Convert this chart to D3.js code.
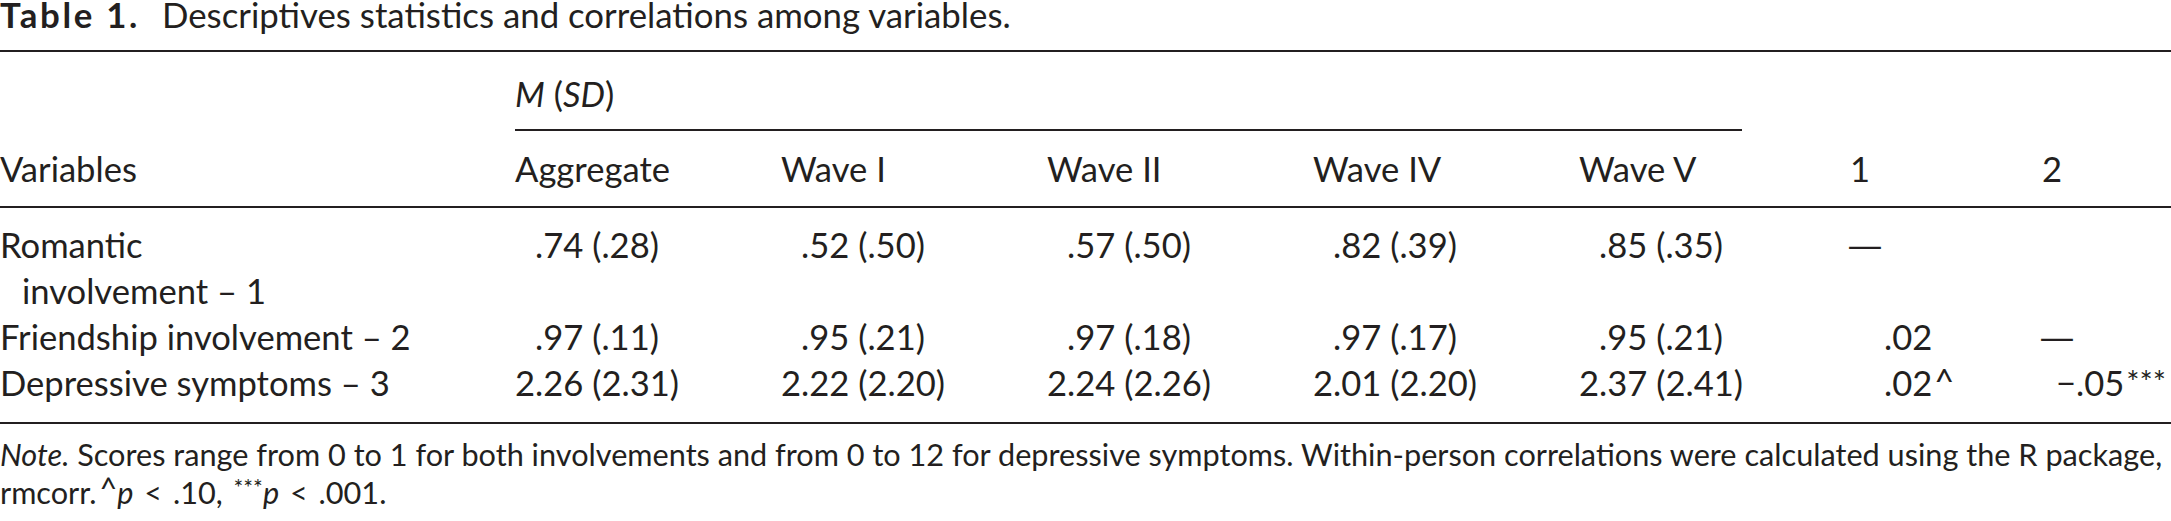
<!DOCTYPE html>
<html>
<head>
<meta charset="utf-8">
<script src="https://cdn.jsdelivr.net/npm/d3@7"></script>
<style>
  html, body { margin: 0; padding: 0; background: #fff; }
  svg { display: block; }
  text { font-family: Lato, "Open Sans", sans-serif; fill: #231f20; }
</style>
</head>
<body>
<div id="chart"></div>
<script>
// ---------- data ----------
const titleLabel = "Table 1.";
const titleText = "Descriptives statistics and correlations among variables.";
const stubHeader = "Variables";
const variableLines = [["Romantic", "involvement \u2013 1"], ["Friendship involvement \u2013 2"], ["Depressive symptoms \u2013 3"]];
const waves = ["Aggregate", "Wave I", "Wave II", "Wave IV", "Wave V"];
const meanValues = [
  [0.74, 0.52, 0.57, 0.82, 0.85],
  [0.97, 0.95, 0.97, 0.97, 0.95],
  [2.26, 2.22, 2.24, 2.01, 2.37]
];
const sdValues = [
  [0.28, 0.50, 0.50, 0.39, 0.35],
  [0.11, 0.21, 0.18, 0.17, 0.21],
  [2.31, 2.20, 2.26, 2.20, 2.41]
];
const corrColumns = ["1", "2"];
const corrWith1 = [null, 0.02, 0.02];
const corrWith2 = [null, null, -0.05];
const corrSig1 = ["", "", "^"];
const corrSig2 = ["", "", "***"];
const noteLead = "Note.";
const noteLine1 = " Scores range from 0 to 1 for both involvements and from 0 to 12 for depressive symptoms. Within-person correlations were calculated using the R package,";

// ---------- layout ----------
const W = 2171, H = 521;
const ink = "#231f20";
const svg = d3.select("#chart").append("svg")
  .attr("width", W).attr("height", H).attr("viewBox", `0 0 ${W} ${H}`);
svg.append("rect").attr("width", W).attr("height", H).attr("fill", "#fff");

function measure(parts, size) {
  const t = svg.append("text").attr("font-size", size);
  parts.forEach(p => t.append("tspan").attr("font-style", p.i ? "italic" : null).attr("font-weight", p.b ? "bold" : null).text(p.t));
  const w = t.node().getComputedTextLength();
  t.remove();
  return w;
}
// calibrate font sizes so text spans match the original's proportions
const noteFs = 30 * 2163 / measure([{ t: noteLead, i: 1 }, { t: noteLine1 }], 30);
const fs = 30 * 390 / measure([{ t: variableLines[2][0] }], 30);
const titleFs = 30 * 849 / measure([{ t: titleText }], 30);
const labelW = measure([{ t: titleLabel, b: 1 }], titleFs);
const labelSpacing = Math.max(0, (140 - labelW) / titleLabel.length);
const digitW = measure([{ t: "2" }], fs);

const x = d3.scalePoint().domain(waves).range([515, 1579]);
const xc = d3.scalePoint().domain(corrColumns).range([1850, 2042]);
const yLine = d3.scaleLinear().domain([0, 3]).range([258, 396]);
const rowStart = [];
variableLines.reduce((acc, lines, i) => { rowStart[i] = acc; return acc + lines.length; }, 0);

const fmt = v => {
  let s = d3.format(".2f")(Math.abs(v));
  if (s.startsWith("0")) s = s.slice(1);
  return (v < 0 ? "\u2212" : "") + s;
};

const g = svg.append("g").attr("font-size", fs);

// title
const title = g.append("text").attr("x", 0).attr("y", 28).attr("font-size", titleFs);
title.append("tspan").attr("font-weight", "bold").attr("letter-spacing", labelSpacing).text(titleLabel);
title.append("tspan").attr("x", 162).attr("letter-spacing", 0).text(titleText);

// rules
const rule = (y, x1, x2) => g.append("line").attr("x1", x1).attr("x2", x2).attr("y1", y).attr("y2", y)
  .attr("stroke", ink).attr("stroke-width", 2.2);
rule(51, 0, W);
rule(130, x(waves[0]), x(waves[waves.length - 1]) + 163);
rule(207, 0, W);
rule(423, 0, W);

// group header M (SD)
const mh = g.append("text").attr("x", x(waves[0])).attr("y", 107);
mh.append("tspan").attr("font-style", "italic").text("M");
mh.append("tspan").text(" (");
mh.append("tspan").attr("font-style", "italic").text("SD");
mh.append("tspan").text(")");

// column headers
const headY = 182;
g.append("text").attr("x", 0).attr("y", headY).text(stubHeader);
g.selectAll("text.wave").data(waves).join("text").attr("class", "wave")
  .attr("x", d => x(d)).attr("y", headY).text(d => d);
g.selectAll("text.corrh").data(corrColumns).join("text").attr("class", "corrh")
  .attr("x", d => xc(d)).attr("y", headY).text(d => d);

// stub labels
variableLines.forEach((lines, r) => {
  lines.forEach((ln, k) => {
    g.append("text").attr("x", k === 0 ? 0 : 22).attr("y", yLine(rowStart[r] + k)).text(ln);
  });
});

// mean (sd) cells, decimal aligned
const cells = [];
meanValues.forEach((row, r) => row.forEach((m, c) => cells.push({ r, c, s: fmt(m) + " (" + fmt(sdValues[r][c]) + ")" })));
const cg = g.selectAll("g.cell").data(cells).join("g").attr("class", "cell")
  .attr("transform", d => `translate(${x(waves[d.c]) + digitW},${yLine(rowStart[d.r])})`);
cg.append("text").attr("text-anchor", "end").text(d => d.s.slice(0, d.s.indexOf(".")));
cg.append("text").attr("text-anchor", "start").text(d => d.s.slice(d.s.indexOf(".")));

// correlation cells
const corrData = [];
[corrWith1, corrWith2].forEach((col, c) => col.forEach((v, r) => {
  const sig = (c === 0 ? corrSig1 : corrSig2)[r];
  if (r === c) corrData.push({ r, c, dash: true });
  else if (v !== null) corrData.push({ r, c, s: fmt(v), sig });
}));
const kg = g.selectAll("g.corr").data(corrData).join("g").attr("class", "corr")
  .attr("transform", d => `translate(${xc(corrColumns[d.c]) + 34},${yLine(rowStart[d.r])})`);
kg.filter(d => d.dash).append("text").attr("x", -38).attr("text-anchor", "start")
  .attr("textLength", 38).attr("lengthAdjust", "spacingAndGlyphs").text("\u2014");
kg.filter(d => !d.dash).append("text").attr("text-anchor", "end").text(d => d.s.slice(0, d.s.indexOf(".")));
const rest = kg.filter(d => !d.dash).append("text").attr("text-anchor", "start");
rest.append("tspan").text(d => d.s.slice(d.s.indexOf(".")));
rest.append("tspan").attr("font-size", d => d.sig === "***" ? fs * 0.9 : fs)
  .attr("dy", d => d.sig === "***" ? -fs * 0.08 : -fs * 0.05)
  .attr("dx", 2)
  .text(d => d.sig);

// note
const nt = g.append("g").attr("font-size", noteFs);
const n1 = nt.append("text").attr("x", 0).attr("y", 466);
n1.append("tspan").attr("font-style", "italic").text(noteLead);
n1.append("tspan").text(noteLine1);
const n2 = nt.append("text").attr("x", 0).attr("y", 504).attr("word-spacing", 3);
n2.append("tspan").text("rmcorr.");
n2.append("tspan").attr("dy", -noteFs * 0.12).attr("dx", 3).text("^");
n2.append("tspan").attr("dy", noteFs * 0.12).attr("font-style", "italic").text("p");
n2.append("tspan").text(" < .10, ");
n2.append("tspan").attr("font-size", noteFs * 0.75).attr("dy", -noteFs * 0.25).text("***");
n2.append("tspan").attr("font-size", noteFs).attr("dy", noteFs * 0.25).attr("font-style", "italic").text("p");
n2.append("tspan").text(" < .001.");
</script>
</body>
</html>
